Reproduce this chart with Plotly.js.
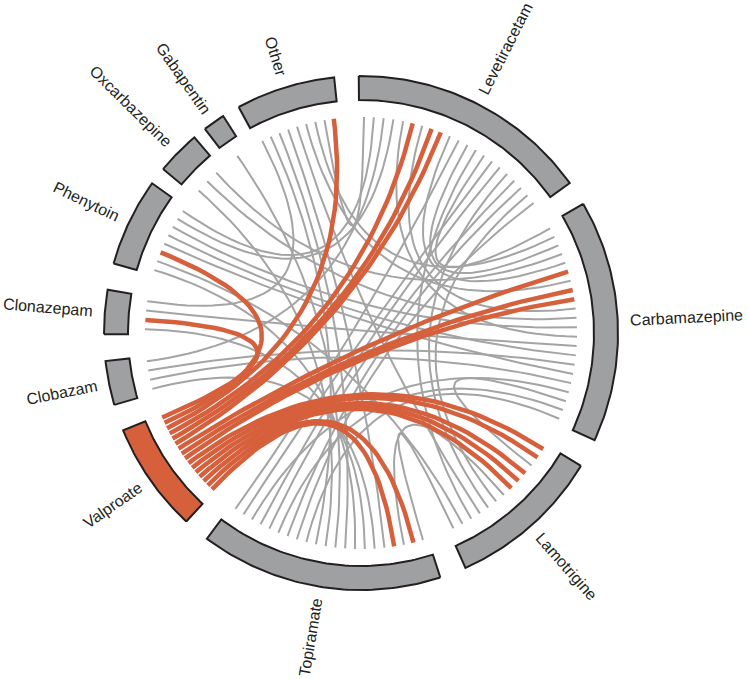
<!DOCTYPE html>
<html><head><meta charset="utf-8">
<script src="https://cdn.plot.ly/plotly-3.0.1.min.js"></script>
<style>html,body{margin:0;padding:0;background:#fff}</style>
</head><body><div id="chart" style="width:749px;height:679px"></div>
<script>
// Drugs in clockwise order, starting at the top
const drugs = ["Levetiracetam","Carbamazepine","Lamotrigine","Topiramate","Valproate","Clobazam","Clonazepam","Phenytoin","Oxcarbazepine","Gabapentin","Other"];
const drugTotals = [22,22,14,22,10,4,4,8,4,2,9];
const highlightDrug = "Valproate";

// Partner of each chord end, in clockwise order along each drug's arc
const levetiracetamLinks = ["Other","Phenytoin","Clobazam","Phenytoin","Carbamazepine","Valproate","Carbamazepine","Valproate","Valproate","Carbamazepine","Topiramate","Carbamazepine","Lamotrigine","Carbamazepine","Topiramate","Topiramate","Lamotrigine","Topiramate","Topiramate","Lamotrigine","Topiramate"];
const carbamazepineLinks = ["Levetiracetam","Other","Levetiracetam","Oxcarbazepine","Levetiracetam","Valproate","Other","Valproate","Valproate","Levetiracetam","Oxcarbazepine","Phenytoin","Levetiracetam","Clonazepam","Phenytoin","Clobazam","Phenytoin","Clobazam","Topiramate","Lamotrigine","Topiramate","Topiramate"];
const lamotrigineLinks = ["Valproate","Valproate","Carbamazepine","Valproate","Valproate","Valproate","Topiramate","Levetiracetam","Levetiracetam","Other","Levetiracetam","Phenytoin","Topiramate"];
const topiramateLinks = ["Lamotrigine","Valproate","Lamotrigine","Valproate","Other","Clobazam","Clonazepam","Phenytoin","Other","Gabapentin","Oxcarbazepine","Other","Carbamazepine","Levetiracetam","Levetiracetam","Carbamazepine","Levetiracetam","Levetiracetam","Carbamazepine","Levetiracetam","Levetiracetam"];
const valproateLinks = ["Topiramate","Topiramate","Lamotrigine","Lamotrigine","Lamotrigine","Lamotrigine","Lamotrigine","Carbamazepine","Carbamazepine","Carbamazepine","Levetiracetam","Levetiracetam","Levetiracetam","Other","Phenytoin","Clonazepam"];
const clobazamLinks = ["Topiramate","Carbamazepine","Carbamazepine","Levetiracetam"];
const clonazepamLinks = ["Topiramate","Valproate","Carbamazepine","Other"];
const phenytoinLinks = ["Topiramate","Lamotrigine","Valproate","Carbamazepine","Carbamazepine","Carbamazepine","Levetiracetam","Levetiracetam"];
const oxcarbazepineLinks = ["Topiramate","Carbamazepine","Carbamazepine"];
const gabapentinLinks = ["Topiramate"];
const otherLinks = ["Clonazepam","Topiramate","Topiramate","Topiramate","Lamotrigine","Carbamazepine","Carbamazepine","Levetiracetam","Valproate"];

const linkLists = {
  "Levetiracetam": levetiracetamLinks, "Carbamazepine": carbamazepineLinks, "Lamotrigine": lamotrigineLinks,
  "Topiramate": topiramateLinks, "Valproate": valproateLinks, "Clobazam": clobazamLinks,
  "Clonazepam": clonazepamLinks, "Phenytoin": phenytoinLinks, "Oxcarbazepine": oxcarbazepineLinks,
  "Gabapentin": gabapentinLinks, "Other": otherLinks
};

// ---- geometry (layout settings) ----
const W = 749, H = 679;
const cx = 361, cy = 333;
const rOut = 257, rIn = 233, rLink = 216, rLabel = 269;
const startAngle = 90.5;
const gapsAfter = [5.5,6.5,6,6,6,6,6,4,3,4,5.5];
const totalVal = drugTotals.reduce((a,b)=>a+b,0);
const unit = (360 - gapsAfter.reduce((a,b)=>a+b,0)) / totalVal;
const rad = d => d*Math.PI/180;
const px = (r,a) => cx + r*Math.cos(rad(a));
const py = (r,a) => cy - r*Math.sin(rad(a));

const seg = {};
let a = startAngle;
drugs.forEach((d,i)=>{
  const span = drugTotals[i]*unit;
  seg[d] = {a0:a, a1:a-span, span:span};
  a = a - span - gapsAfter[i];
});

const traces = [];
function endAngle(d, j){
  const s = seg[d], n = linkLists[d].length;
  return s.a0 - (j+0.5)*s.span/n;
}
const grayX=[], grayY=[], redX=[], redY=[];
drugs.forEach((A,ia)=>{
  drugs.forEach((B,ib)=>{
    if (ib <= ia) return;
    const ia_idx = [], ib_idx = [];
    linkLists[A].forEach((p,j)=>{ if(p===B) ia_idx.push(j); });
    linkLists[B].forEach((p,j)=>{ if(p===A) ib_idx.push(j); });
    const m = Math.min(ia_idx.length, ib_idx.length);
    for (let k=0;k<m;k++){
      const t1 = endAngle(A, ia_idx[k]);
      const t2 = endAngle(B, ib_idx[ib_idx.length-1-k]);
      const x0=px(rLink,t1), y0=py(rLink,t1), x2=px(rLink,t2), y2=py(rLink,t2);
      const red = (A===highlightDrug || B===highlightDrug);
      const X = red?redX:grayX, Y = red?redY:grayY;
      for (let s=0;s<=40;s++){
        const t=s/40, u=1-t;
        X.push(u*u*x0 + 2*u*t*cx + t*t*x2);
        Y.push(u*u*y0 + 2*u*t*cy + t*t*y2);
      }
      X.push(null); Y.push(null);
    }
  });
});
traces.push({type:'scatter',mode:'lines',x:grayX,y:grayY,line:{color:'#a4a4a4',width:2},hoverinfo:'skip'});
traces.push({type:'scatter',mode:'lines',x:redX,y:redY,line:{color:'#d65f3c',width:4.5},hoverinfo:'skip'});

drugs.forEach(d=>{
  const s = seg[d]; const X=[],Y=[];
  const N=60;
  for(let k=0;k<=N;k++){ const t=s.a0-(s.a0-s.a1)*k/N; X.push(px(rOut,t)); Y.push(py(rOut,t)); }
  for(let k=0;k<=N;k++){ const t=s.a1+(s.a0-s.a1)*k/N; X.push(px(rIn,t)); Y.push(py(rIn,t)); }
  X.push(X[0]); Y.push(Y[0]);
  traces.push({type:'scatter',mode:'lines',x:X,y:Y,fill:'toself',
    fillcolor: d===highlightDrug ? '#d65f3c' : '#9fa0a2',
    line:{color:'#231f20',width:2},hoverinfo:'skip'});
});

const cv = document.createElement('canvas').getContext('2d');
const fontSize = 16, fontFam = 'Liberation Sans, Arial, sans-serif';
cv.font = fontSize+'px "Liberation Sans", Arial, sans-serif';
const annotations = drugs.map(d=>{
  const s = seg[d]; const mid = (s.a0+s.a1)/2;
  const w = cv.measureText(d).width;
  const r = rLabel + w/2;
  const c = Math.cos(rad(mid));
  let ang = c >= 0 ? -mid : 180 - mid;
  while (ang > 180) ang -= 360; while (ang < -180) ang += 360;
  return {x:px(r,mid), y:py(r,mid), text:d, showarrow:false, textangle:ang,
    xanchor:'center', yanchor:'middle', xref:'x', yref:'y',
    font:{family:fontFam,size:fontSize,color:'#231f20'}};
});

Plotly.newPlot('chart', traces, {
  width:W, height:H, margin:{l:0,r:0,t:0,b:0},
  paper_bgcolor:'#fff', plot_bgcolor:'#fff', showlegend:false, hovermode:false,
  xaxis:{range:[0,W],visible:false,fixedrange:true},
  yaxis:{range:[H,0],visible:false,fixedrange:true},
  annotations:annotations
}, {displayModeBar:false, staticPlot:true});
</script></body></html>
